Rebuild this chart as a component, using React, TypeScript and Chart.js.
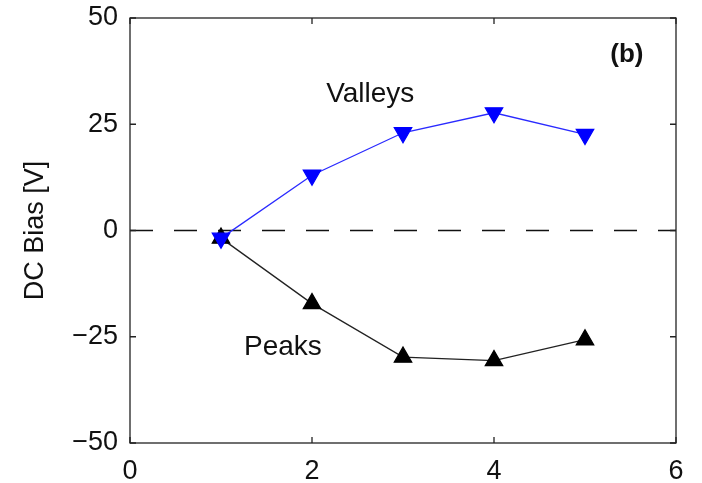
import React, { useEffect, useRef } from "react";
import { Chart, registerables } from "chart.js";

Chart.register(...registerables);

// Harmonic index (x) and DC bias in volts (y)
const harmonic = [1, 2, 3, 4, 5];
const valleys = [-1.8, 13.0, 23.0, 27.7, 22.6];
const peaks = [-1.8, -17.2, -29.8, -30.6, -25.7];
const xTicks = [0, 2, 4, 6];
const yTicks = [-50, -25, 0, 25, 50];
const zeroLine = [0, 0];
const zeroLineX = [0, 6];

const FONT = "'Liberation Sans', Arial, sans-serif";

const fmt = (v: number) => (v < 0 ? "\u2212" + Math.abs(v) : String(v));

// Box frame with inward tick marks on all four sides, plus the text labels
const framePlugin = {
  id: "frame",
  afterDatasetsDraw(chart: any) {
    const { ctx, chartArea: a, scales } = chart;
    const xs = scales.x;
    const ys = scales.y;
    ctx.save();
    ctx.strokeStyle = "#222";
    ctx.lineWidth = 1.3;
    ctx.strokeRect(a.left, a.top, a.right - a.left, a.bottom - a.top);
    const tl = 6;
    ctx.beginPath();
    xTicks.forEach((v) => {
      const px = xs.getPixelForValue(v);
      ctx.moveTo(px, a.bottom);
      ctx.lineTo(px, a.bottom - tl);
      ctx.moveTo(px, a.top);
      ctx.lineTo(px, a.top + tl);
    });
    yTicks.forEach((v) => {
      const py = ys.getPixelForValue(v);
      ctx.moveTo(a.left, py);
      ctx.lineTo(a.left + tl, py);
      ctx.moveTo(a.right, py);
      ctx.lineTo(a.right - tl, py);
    });
    ctx.stroke();

    ctx.fillStyle = "#111";
    ctx.textAlign = "center";
    ctx.textBaseline = "middle";
    ctx.font = `28px ${FONT}`;
    ctx.fillText("Valleys", xs.getPixelForValue(2.64), ys.getPixelForValue(32));
    ctx.fillText("Peaks", xs.getPixelForValue(1.68), ys.getPixelForValue(-27.5));
    ctx.font = `bold 26px ${FONT}`;
    ctx.fillText("(b)", xs.getPixelForValue(5.46), ys.getPixelForValue(41.4));
    ctx.restore();
  },
};

export default function App() {
  const ref = useRef<HTMLCanvasElement>(null);

  useEffect(() => {
    if (!ref.current) return;
    const chart = new Chart(ref.current, {
      type: "scatter",
      data: {
        datasets: [
          {
            label: "Valleys",
            data: harmonic.map((x, i) => ({ x, y: valleys[i] })),
            showLine: true,
            borderColor: "#2a2aff",
            borderWidth: 1.3,
            backgroundColor: "#0000ff",
            pointBackgroundColor: "#0000ff",
            pointBorderColor: "#0000ff",
            pointStyle: "triangle",
            rotation: 180,
            pointRadius: 10,
            pointHoverRadius: 10,
          },
          {
            label: "Peaks",
            data: harmonic.map((x, i) => ({ x, y: peaks[i] })),
            showLine: true,
            borderColor: "#222",
            borderWidth: 1.3,
            backgroundColor: "#000",
            pointBackgroundColor: "#000",
            pointBorderColor: "#000",
            pointStyle: "triangle",
            pointRadius: 10,
            pointHoverRadius: 10,
          },
          {
            label: "zero",
            data: zeroLineX.map((x, i) => ({ x, y: zeroLine[i] })),
            showLine: true,
            borderColor: "#111",
            borderWidth: 1.3,
            borderDash: [23, 21],
            pointRadius: 0,
          },
        ],
      },
      options: {
        animation: false,
        responsive: true,
        maintainAspectRatio: false,
        layout: { padding: { left: 0, right: 26, top: 18, bottom: 0 } },
        plugins: {
          legend: { display: false },
          tooltip: { enabled: false },
        },
        scales: {
          x: {
            type: "linear",
            min: 0,
            max: 6,
            afterBuildTicks: (s: any) => {
              s.ticks = xTicks.map((v) => ({ value: v }));
            },
            afterFit: (s: any) => {
              s.height = 40;
              s.paddingLeft = 0;
              s.paddingRight = 0;
            },
            grid: { display: false, drawTicks: false },
            border: { display: false },
            ticks: {
              padding: 12,
              color: "#111",
              font: { family: FONT, size: 27 },
              callback: (v: any) => fmt(Number(v)),
            },
          },
          y: {
            type: "linear",
            min: -50,
            max: 50,
            afterBuildTicks: (s: any) => {
              s.ticks = yTicks.map((v) => ({ value: v }));
            },
            afterFit: (s: any) => {
              s.width = 130;
              s.paddingTop = 0;
              s.paddingBottom = 0;
            },
            grid: { display: false, drawTicks: false },
            border: { display: false },
            title: {
              display: true,
              text: "DC Bias [V]",
              color: "#111",
              font: { family: FONT, size: 27 },
              padding: { top: 19, bottom: 0 },
            },
            ticks: {
              padding: 12,
              color: "#111",
              font: { family: FONT, size: 27 },
              callback: (v: any) => fmt(Number(v)),
            },
          },
        },
      },
      plugins: [framePlugin],
    });
    return () => chart.destroy();
  }, []);

  return (
    <div style={{ position: "fixed", left: 0, top: 0, width: 702, height: 483, background: "#fff" }}>
      <canvas ref={ref} />
    </div>
  );
}
